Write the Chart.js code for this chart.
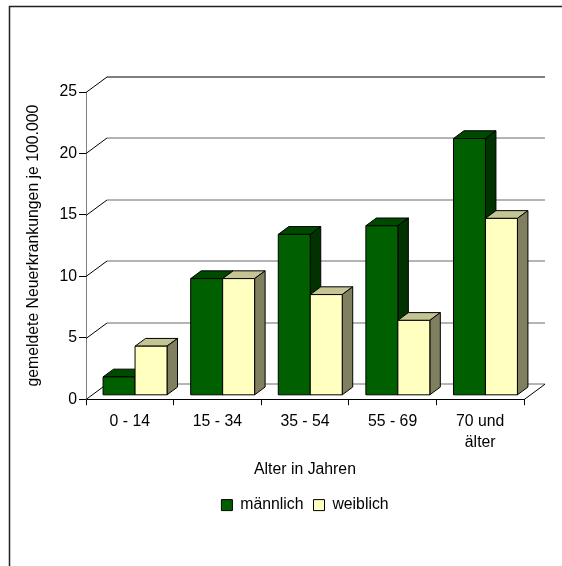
<html>
<head>
<script src="https://cdn.jsdelivr.net/npm/chart.js@4.4.0/dist/chart.umd.min.js"></script>
<style>
  body { margin: 0; background: #fff; }
</style>
</head>
<body>
<canvas id="myChart" width="562" height="566"></canvas>
<script>
const ageGroups = ['0 - 14', '15 - 34', '35 - 54', '55 - 69', ['70 und', 'älter']]
const maleRates = [1.5, 9.5, 13.1, 13.8, 20.9]
const femaleRates = [4.0, 9.5, 8.2, 6.1, 14.4]
const seriesNames = ['männlich', 'weiblich']

const FONT = 'Arial, "Liberation Sans", sans-serif'
const FSIZE = 15.8
// depth of the back wall, bars sit in the middle half of it
const DX = 21
const DY = -15.5
const shades = [
    { front: '#006000', top: '#004a00', side: '#003300' },
    { front: '#ffffc0', top: '#c4c494', side: '#808060' }
]

function line(ctx, x1, y1, x2, y2) {
    ctx.beginPath()
    ctx.moveTo(x1, y1)
    ctx.lineTo(x2, y2)
    ctx.stroke()
}

function poly(ctx, pts, fill) {
    ctx.beginPath()
    ctx.moveTo(pts[0][0], pts[0][1])
    for (let i = 1; i < pts.length; i++) ctx.lineTo(pts[i][0], pts[i][1])
    ctx.closePath()
    ctx.fillStyle = fill
    ctx.fill()
    ctx.stroke()
}

const box3d = {
    id: 'box3d',
    beforeDraw(chart) {
        const ctx = chart.ctx
        ctx.save()
        ctx.strokeStyle = '#222'
        ctx.lineWidth = 1.5
        ctx.beginPath()
        ctx.moveTo(9.5, 566)
        ctx.lineTo(9.5, 6.5)
        ctx.lineTo(562, 6.5)
        ctx.stroke()
        ctx.restore()
    },
    beforeDatasetsDraw(chart) {
        const ctx = chart.ctx
        const a = chart.chartArea
        const y = chart.scales.y
        ctx.save()
        ctx.lineWidth = 1

        // back wall grid and floor
        y.ticks.forEach(t => {
            const py = Math.round(y.getPixelForValue(t.value)) + 0.5
            ctx.strokeStyle = t.value === 25 ? '#000' : '#6a6a6a'
            line(ctx, a.left + DX, py + DY, a.right + DX, py + DY)
            ctx.strokeStyle = '#000'
            line(ctx, a.left, py, a.left + DX, py + DY)
        })
        ctx.strokeStyle = '#000'
        line(ctx, a.right, a.bottom + 0.5, a.right + DX, a.bottom + 0.5 + DY)

        // bars as boxes, drawn left to right
        const metas = chart.data.datasets.map((d, i) => chart.getDatasetMeta(i))
        ctx.strokeStyle = '#000'
        ctx.lineJoin = 'round'
        for (let i = 0; i < chart.data.labels.length; i++) {
            metas.forEach((meta, d) => {
                const bar = meta.data[i]
                const c = shades[d]
                const l = bar.x - bar.width / 2 + DX / 4
                const r = l + bar.width
                const t = bar.y + DY / 4
                const b = bar.base + DY / 4
                const ox = DX / 2, oy = DY / 2
                poly(ctx, [[l, t], [r, t], [r + ox, t + oy], [l + ox, t + oy]], c.top)
                poly(ctx, [[r, t], [r + ox, t + oy], [r + ox, b + oy], [r, b]], c.side)
                poly(ctx, [[l, t], [r, t], [r, b], [l, b]], c.front)
            })
        }
        ctx.restore()
        return false
    }
}

const ctx = document.getElementById('myChart').getContext('2d')
const myChart = new Chart(ctx, {
    type: 'bar',
    data: {
        labels: ageGroups,
        datasets: [{
            label: seriesNames[0],
            data: maleRates,
            backgroundColor: shades[0].front,
            borderColor: '#000',
            borderWidth: 1,
            categoryPercentage: 0.73,
            barPercentage: 1
        }, {
            label: seriesNames[1],
            data: femaleRates,
            backgroundColor: shades[1].front,
            borderColor: '#000',
            borderWidth: 1,
            categoryPercentage: 0.73,
            barPercentage: 1
        }]
    },
    options: {
        responsive: false,
        animation: false,
        layout: { padding: { left: 20, right: 38, top: 92, bottom: 43 } },
        plugins: {
            tooltip: { enabled: false },
            legend: {
                position: 'bottom',
                fullSize: false,
                labels: {
                    color: '#000',
                    font: { family: FONT, size: FSIZE },
                    boxWidth: 11,
                    boxHeight: 11,
                    padding: 10
                }
            }
        },
        scales: {
            x: {
                afterFit(scale) { scale.height = 88 },
                grid: { display: true, drawOnChartArea: false, offset: true, tickLength: 6, color: '#000' },
                border: { color: '#000' },
                ticks: {
                    color: '#000',
                    padding: 6,
                    maxRotation: 0,
                    font: { family: FONT, size: FSIZE, lineHeight: 1.33 }
                },
                title: {
                    display: true,
                    text: 'Alter in Jahren',
                    color: '#000',
                    font: { family: FONT, size: FSIZE },
                    padding: { top: 1, bottom: 8 }
                }
            },
            y: {
                min: 0,
                max: 25,
                afterFit(scale) { scale.width = 66 },
                grid: { display: true, drawOnChartArea: false, tickLength: 7, color: '#000' },
                border: { color: '#808080' },
                ticks: {
                    stepSize: 5,
                    color: '#000',
                    padding: 2,
                    font: { family: FONT, size: FSIZE }
                },
                title: {
                    display: true,
                    text: 'gemeldete Neuerkrankungen je 100.000',
                    color: '#000',
                    font: { family: FONT, size: FSIZE },
                    padding: { top: 4, bottom: 4 }
                }
            }
        }
    },
    plugins: [box3d]
})
</script>
</body>
</html>
